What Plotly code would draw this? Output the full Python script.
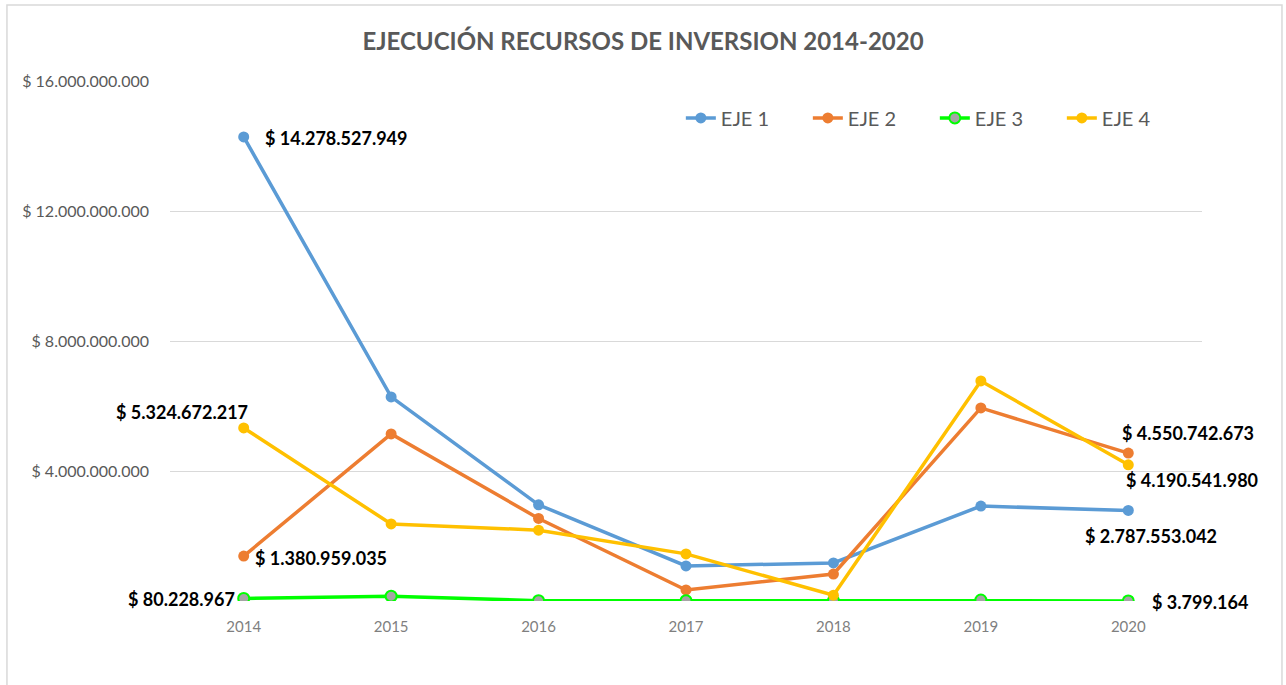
import plotly.graph_objects as go

years = [2014, 2015, 2016, 2017, 2018, 2019, 2020]
eje1 = [14278527949, 6280000000, 2960000000, 1080000000, 1170000000, 2920000000, 2787553042]
eje2 = [1380959035, 5140000000, 2540000000, 340000000, 830000000, 5940000000, 4550742673]
eje3 = [80228967, 150000000, 10000000, 10000000, 10000000, 30000000, 3799164]
eje4 = [5324672217, 2370000000, 2180000000, 1450000000, 180000000, 6770000000, 4190541980]

names = ["EJE 1", "EJE 2", "EJE 3", "EJE 4"]
series = [eje1, eje2, eje3, eje4]
line_colors = ["#5B9BD5", "#ED7D31", "#00FF00", "#FFC000"]
marker_colors = ["#5B9BD5", "#ED7D31", "#A5A5A5", "#FFC000"]

y_ticks = [0, 4000000000, 8000000000, 12000000000, 16000000000]
y_ticktext = ["", "$ 4.000.000.000", "$ 8.000.000.000", "$ 12.000.000.000", "$ 16.000.000.000"]

title = "EJECUCIÓN RECURSOS DE INVERSION 2014-2020"

def fmt(v):
    return "$ " + f"{v:,}".replace(",", ".")

FONT = "Lato"

fig = go.Figure()
for i, (n, s) in enumerate(zip(names, series)):
    mk = dict(size=11, color=marker_colors[i])
    if i == 2:
        mk["line"] = dict(color="#00FF00", width=2)
    fig.add_trace(go.Scatter(
        x=years, y=s, name=n, mode="lines+markers",
        line=dict(color=line_colors[i], width=3.5),
        marker=mk,
    ))

# data labels: (series index, point index, xanchor, xshift, yshift)
labels = [
    (0, 0, "left", 19, -1),
    (3, 0, "right", 6, 16),
    (1, 0, "left", 9, -2),
    (2, 0, "right", -7, -1),
    (1, 6, "left", -8, 20),
    (3, 6, "left", -4, -15),
    (0, 6, "left", -45, -26),
    (2, 6, "left", 22, -1),
]
for si, pi, xa, xs, ys in labels:
    fig.add_annotation(
        x=years[pi], y=series[si][pi], text=fmt(series[si][pi]),
        showarrow=False, xanchor=xa, yanchor="middle", xshift=xs, yshift=ys,
        font=dict(family=FONT, size=18, color="#000000", weight="bold"),
    )

fig.add_shape(type="rect", xref="paper", yref="paper",
              x0=-0.158, x1=1.0775, y0=-0.2, y1=1.146,
              line=dict(color="#D9D9D9", width=1.5), layer="below")

fig.update_layout(
    width=1286, height=685,
    margin=dict(l=170, r=84, t=81, b=84),
    paper_bgcolor="white", plot_bgcolor="white",
    title=dict(text=title, x=0.5, xref="container", y=1 - 42 / 685, yref="container",
               xanchor="center", yanchor="middle",
               font=dict(family=FONT, size=24, color="#595959", weight="bold")),
    font=dict(family=FONT, color="#595959"),
    legend=dict(orientation="h", x=0.495, y=0.929, xanchor="left", yanchor="middle",
                font=dict(family=FONT, size=20, color="#595959"),
                entrywidth=82, entrywidthmode="pixels", bgcolor="rgba(0,0,0,0)"),
    xaxis=dict(range=[2013.5, 2020.5], tickvals=years, ticktext=[str(y) for y in years],
               showgrid=False, zeroline=False, showline=False, ticklabelstandoff=15,
               tickfont=dict(family=FONT, size=15, color="#7F7F7F"), ticks=""),
    yaxis=dict(range=[0, 16000000000], tickvals=y_ticks, ticktext=y_ticktext,
               showgrid=True, gridcolor="#D9D9D9", gridwidth=1, zeroline=False,
               showline=False, ticks="", ticklabelstandoff=20,
               tickfont=dict(family=FONT, size=16, color="#595959")),
    showlegend=True,
)

fig.write_html("out.html", config={"displayModeBar": False},
               post_script="document.body.style.margin='0';document.body.style.overflow='hidden';")
